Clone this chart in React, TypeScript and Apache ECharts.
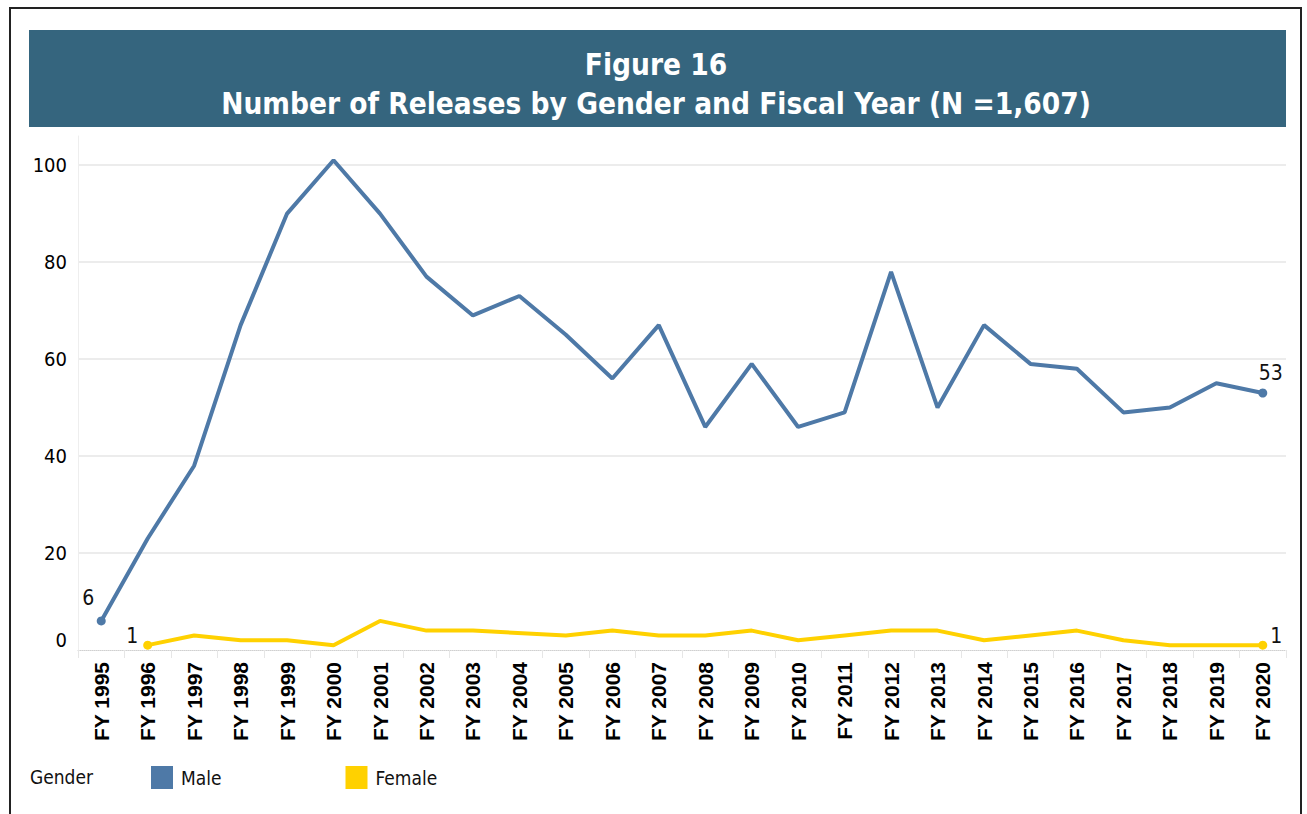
import React, { useEffect, useRef } from 'react';
import * as echarts from 'echarts';

const categories = [
  'FY 1995', 'FY 1996', 'FY 1997', 'FY 1998', 'FY 1999', 'FY 2000', 'FY 2001',
  'FY 2002', 'FY 2003', 'FY 2004', 'FY 2005', 'FY 2006', 'FY 2007', 'FY 2008',
  'FY 2009', 'FY 2010', 'FY 2011', 'FY 2012', 'FY 2013', 'FY 2014', 'FY 2015',
  'FY 2016', 'FY 2017', 'FY 2018', 'FY 2019', 'FY 2020',
];
const maleValues = [6, 23, 38, 67, 90, 101, 90, 77, 69, 73, 65, 56, 67, 46, 59, 46, 49, 78, 50, 67, 59, 58, 49, 50, 55, 53];
const femaleValues = [null, 1, 3, 2, 2, 1, 6, 4, 4, null, 3, 4, 3, 3, 4, 2, 3, 4, 4, 2, 3, 4, 2, 1, 1, 1];
const yTicks = [0, 20, 40, 60, 80, 100];
const titleLine1 = 'Figure 16';
const titleLine2 = 'Number of Releases by Gender and Fiscal Year (N =1,607)';

const MALE = '#4e79a7';
const FEMALE = '#ffd100';
const NUMFONT = '"DejaVu Sans Condensed", "DejaVu Sans", sans-serif';

function endpoints(values: (number | null)[]) {
  let first = -1;
  let last = -1;
  values.forEach((v, i) => {
    if (v != null) {
      if (first < 0) first = i;
      last = i;
    }
  });
  return [first, last];
}

function buildData(values: (number | null)[], firstLabel: any, lastLabel: any) {
  const [first, last] = endpoints(values);
  return values.map((v, i) => {
    if (i === first) return { value: v, symbolSize: 9, label: { show: true, ...firstLabel } };
    if (i === last) return { value: v, symbolSize: 9, label: { show: true, ...lastLabel } };
    return { value: v, symbolSize: 0 };
  });
}

export default function App() {
  const ref = useRef<HTMLDivElement>(null);
  useEffect(() => {
    if (!ref.current) return;
    const chart = echarts.init(ref.current, null, { renderer: 'svg' });
    const labelStyle = { fontSize: 21, color: '#111', fontFamily: NUMFONT };
    chart.setOption({
      animation: false,
      backgroundColor: '#fff',
      title: {
        text: titleLine1 + '\n' + titleLine2,
        left: 651,
        textAlign: 'center',
        top: 40,
        textStyle: {
          color: '#fff',
          fontSize: 29.5,
          fontWeight: 'bold',
          lineHeight: 39,
          fontFamily: NUMFONT,
        },
        z: 10,
      },
      graphic: [
        { type: 'rect', z: 1, shape: { x: 10, y: 8, width: 1291, height: 900 }, style: { fill: 'none', stroke: '#222', lineWidth: 2 } },
        { type: 'rect', z: 2, shape: { x: 29, y: 30, width: 1257, height: 97 }, style: { fill: '#35657e' } },
        { type: 'text', z: 2, x: 30, y: 777, style: { text: 'Gender', fontSize: 19, fill: '#111', fontFamily: NUMFONT, verticalAlign: 'middle' } },
      ],
      legend: {
        data: ['Male', 'Female'],
        left: 146,
        top: 761,
        icon: 'rect',
        itemWidth: 22,
        itemHeight: 23,
        itemGap: 124,
        textStyle: { fontSize: 19, color: '#111', fontFamily: NUMFONT, padding: [0, 0, 0, 3] },
      },
      grid: { left: 78, right: 21, top: 136, bottom: 164, outerBoundsMode: 'none' },
      xAxis: {
        type: 'category',
        data: categories,
        boundaryGap: true,
        axisLine: { lineStyle: { color: '#d0d0d0', type: 'dotted', width: 1 } },
        axisTick: { show: true, length: 8, lineStyle: { color: '#e6e6e6' } },
        axisLabel: {
          rotate: 90,
          interval: 0,
          margin: 12,
          fontSize: 21,
          fontWeight: 'bold',
          color: '#000',
          fontFamily: '"Liberation Sans", Arial, sans-serif',
        },
      },
      yAxis: {
        type: 'value',
        min: 0,
        max: 106,
        interval: 20,
        axisLine: { show: true, lineStyle: { color: '#eeeeee', width: 1 } },
        axisTick: { show: false },
        splitLine: { show: true, showMinLine: false, showMaxLine: false, lineStyle: { color: '#e6e6e6', width: 1.5 } },
        axisLabel: {
          margin: 11,
          color: '#000',
          fontSize: 20,
          fontFamily: NUMFONT,
          formatter: (v: number) => (yTicks.includes(v) ? (v === 0 ? '{z|0}' : String(v)) : ''),
          rich: { z: { fontSize: 20, fontFamily: NUMFONT, color: '#000', padding: [0, 0, 20, 0] } },
        },
      },
      series: [
        {
          name: 'Male',
          type: 'line',
          color: MALE,
          symbol: 'circle',
          showSymbol: true,
          showAllSymbol: true,
          lineStyle: { width: 4, color: MALE },
          itemStyle: { color: MALE },
          label: labelStyle,
          data: buildData(maleValues, { position: 'top', offset: [-13, -3] }, { position: 'top', offset: [8, 0] }),
        },
        {
          name: 'Female',
          type: 'line',
          color: FEMALE,
          symbol: 'circle',
          showSymbol: true,
          showAllSymbol: true,
          connectNulls: true,
          lineStyle: { width: 4, color: FEMALE },
          itemStyle: { color: FEMALE },
          label: labelStyle,
          data: buildData(femaleValues, { position: 'left', offset: [0, -9] }, { position: 'right', offset: [-2, -9] }),
        },
      ],
    });
    return () => chart.dispose();
  }, []);
  return <div ref={ref} style={{ position: 'absolute', left: 0, top: 0, width: 1307, height: 814 }} />;
}
